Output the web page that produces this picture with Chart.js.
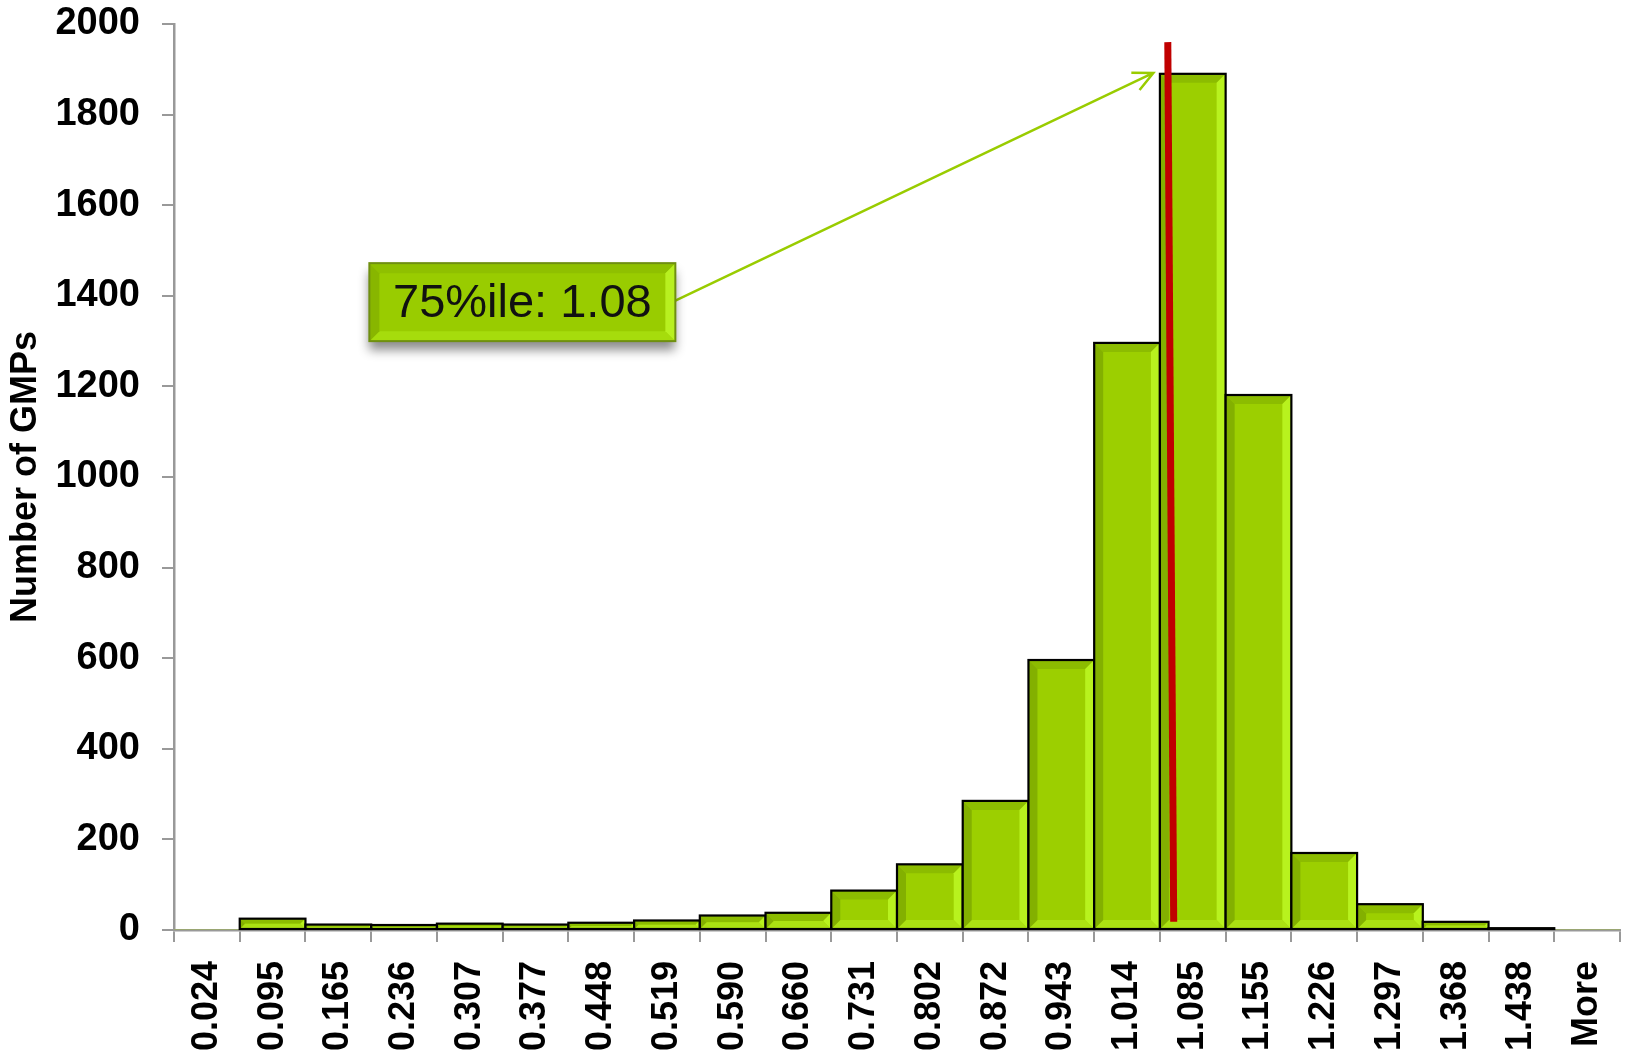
<!DOCTYPE html>
<html>
<head>
<meta charset="utf-8">
<script src="https://cdn.jsdelivr.net/npm/chart.js@4/dist/chart.umd.min.js"></script>
<style>
  body { margin: 0; background: #fff; }
  #wrap { width: 1633px; height: 1060px; }
</style>
</head>
<body>
<div id="wrap"><canvas id="hist"></canvas></div>
<script>
// bin labels and counts
const binLabels = ['0.024','0.095','0.165','0.236','0.307','0.377','0.448','0.519','0.590','0.660',
                   '0.731','0.802','0.872','0.943','1.014','1.085','1.155','1.226','1.297','1.368','1.438','More'];
const gmpCounts = [0, 25, 12, 11, 14, 12, 16, 21, 32, 38, 87, 145, 285, 596, 1296, 1890, 1181, 170, 57, 18, 4, 0];

// 75th percentile marker (x in bin-index units, y in counts)
const pctLineX = [14.62, 14.71];
const pctLineY = [1960, 18];

// callout
const calloutText = '75%ile: 1.08';
const calloutAt = [4.8, 1386];
const arrowFrom = [7.08, 1386];
const arrowTo = [14.4, 1892];

const yTicks = { min: 0, max: 2000, step: 200 };

const xTickFont = { family: 'Liberation Sans', weight: 'bold', size: 36 };
const yTickFont = { family: 'Liberation Sans', weight: 'bold', size: 38 };

function poly(ctx, pts, fill) {
    ctx.beginPath();
    ctx.moveTo(pts[0], pts[1]);
    for (let i = 2; i < pts.length; i += 2) ctx.lineTo(pts[i], pts[i + 1]);
    ctx.closePath();
    ctx.fillStyle = fill;
    ctx.fill();
}

// draws a bevelled green block, used for bars and for the callout
function bevelBox(ctx, l, t, r, b, bv, cols) {
    poly(ctx, [l, t, r, t, r - bv, t + bv, l + bv, t + bv], cols.top);
    poly(ctx, [l, b, r, b, r - bv, b - bv, l + bv, b - bv], cols.bottom);
    poly(ctx, [l, t, l + bv, t + bv, l + bv, b - bv, l, b], cols.left);
    poly(ctx, [r, t, r - bv, t + bv, r - bv, b - bv, r, b], cols.right);
}

const barCols = { top: '#8cbc00', bottom: '#abe112', left: '#83b000', right: '#b8f21e' };

const barBevel = {
    id: 'barBevel',
    afterDatasetDraw(chart, args) {
        if (args.index !== 0) return;
        const ctx = chart.ctx;
        ctx.save();
        chart.getDatasetMeta(0).data.forEach(bar => {
            const p = bar.getProps(['x', 'y', 'base', 'width'], true);
            const l = p.x - p.width / 2, r = p.x + p.width / 2;
            const t = Math.min(p.y, p.base), b = Math.max(p.y, p.base);
            const h = b - t;
            if (h < 0.5) return;
            const bv = Math.min(9, h / 2, p.width / 2);
            bevelBox(ctx, l, t, r, b, bv, barCols);
            ctx.strokeStyle = '#000';
            ctx.lineWidth = 2.2;
            ctx.strokeRect(l, t, r - l, h);
        });
        ctx.restore();
    }
};

const callout = {
    id: 'callout',
    afterDatasetsDraw(chart) {
        const ctx = chart.ctx;
        const xs = chart.scales.x, ys = chart.scales.y;
        const cx = xs.getPixelForValue(calloutAt[0]), cy = ys.getPixelForValue(calloutAt[1]);
        const w = 306, h = 78;
        const l = cx - w / 2, t = cy - h / 2;
        ctx.save();

        // arrow
        const x1 = xs.getPixelForValue(arrowFrom[0]), y1 = ys.getPixelForValue(arrowFrom[1]);
        const x2 = xs.getPixelForValue(arrowTo[0]), y2 = ys.getPixelForValue(arrowTo[1]);
        ctx.strokeStyle = '#99cc00';
        ctx.lineWidth = 2.5;
        ctx.beginPath();
        ctx.moveTo(x1, y1);
        ctx.lineTo(x2, y2);
        const ang = Math.atan2(y2 - y1, x2 - x1);
        const hl = 22;
        ctx.moveTo(x2 - hl * Math.cos(ang - 0.45), y2 - hl * Math.sin(ang - 0.45));
        ctx.lineTo(x2, y2);
        ctx.lineTo(x2 - hl * Math.cos(ang + 0.45), y2 - hl * Math.sin(ang + 0.45));
        ctx.stroke();

        // box with drop shadow
        ctx.save();
        ctx.shadowColor = 'rgba(0,0,0,0.45)';
        ctx.shadowBlur = 10;
        ctx.shadowOffsetY = 9;
        ctx.fillStyle = '#99cc00';
        ctx.fillRect(l, t, w, h);
        ctx.restore();
        bevelBox(ctx, l, t, l + w, t + h, 10,
            { top: '#8fc000', bottom: '#a6dc0c', left: '#88b600', right: '#b8f020' });
        ctx.strokeStyle = '#6f8f10';
        ctx.lineWidth = 2;
        ctx.strokeRect(l, t, w, h);

        ctx.fillStyle = '#111';
        ctx.font = '47px "Liberation Sans"';
        ctx.textAlign = 'center';
        ctx.textBaseline = 'middle';
        ctx.fillText(calloutText, cx, cy + 2);
        ctx.restore();
    }
};

new Chart(document.getElementById('hist'), {
    type: 'bar',
    data: {
        labels: binLabels,
        datasets: [{
            label: 'Number of GMPs',
            data: gmpCounts,
            backgroundColor: '#9ccf00',
            borderWidth: 0,
            barPercentage: 1,
            categoryPercentage: 1,
            grouped: false,
            order: 2
        }, {
            type: 'line',
            label: '75%ile',
            parsing: false,
            data: pctLineX.map((x, i) => ({ x: x, y: pctLineY[i] })),
            borderColor: '#c00000',
            borderWidth: 7,
            pointRadius: 0,
            fill: false,
            order: 1
        }]
    },
    options: {
        responsive: true,
        maintainAspectRatio: false,
        animation: false,
        layout: { padding: { top: 24, right: 13, left: 0, bottom: 0 } },
        plugins: { legend: { display: false }, tooltip: { enabled: false } },
        scales: {
            x: {
                grid: { offset: true, drawOnChartArea: false, drawTicks: true, tickLength: 12, color: '#999', lineWidth: 2 },
                border: { color: '#999', width: 2.5 },
                ticks: { color: '#000', font: xTickFont, minRotation: 90, maxRotation: 90, padding: 19, autoSkip: false },
                afterFit(scale) {
                    scale.height = 130;
                    scale.paddingLeft = 0;
                    scale.paddingRight = 0;
                }
            },
            y: {
                min: yTicks.min,
                max: yTicks.max,
                grid: { drawOnChartArea: false, drawTicks: true, tickLength: 12, color: '#999', lineWidth: 2 },
                border: { color: '#999', width: 2.5 },
                ticks: { stepSize: yTicks.step, color: '#000', font: yTickFont, padding: 22, callback: v => String(v) },
                title: {
                    display: true,
                    text: 'Number of GMPs',
                    color: '#000',
                    font: { family: 'Liberation Sans', weight: 'bold', size: 36 },
                    padding: { top: 4, bottom: 0 }
                },
                afterFit(scale) {
                    scale.width = 174;
                    scale.paddingTop = 0;
                    scale.paddingBottom = 0;
                }
            }
        }
    },
    plugins: [barBevel, callout]
});
</script>
</body>
</html>
